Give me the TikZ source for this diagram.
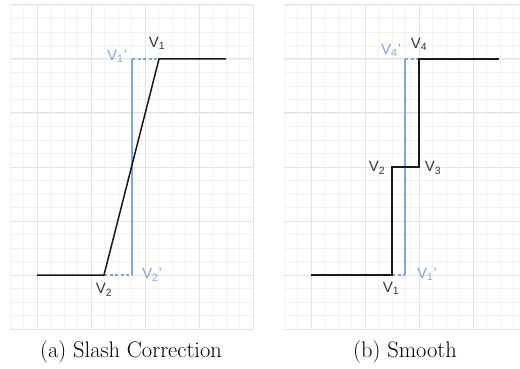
\documentclass[tikz,border=0pt]{standalone}
\usepackage{fontspec}
\setsansfont{Liberation Sans}
\definecolor{lineblue}{RGB}{126,166,224}
\definecolor{lblgray}{RGB}{55,55,55}
\begin{document}
\begin{tikzpicture}[x=1pt,y=-1pt,
  minorgrid/.style={draw=black!5, line width=0.8pt},
  majorgrid/.style={draw=black!11, line width=1pt},
  curve/.style={draw=black!90, line width=1.5pt},
  bluel/.style={draw=lineblue, line width=1.3pt},
  bluedash/.style={bluel, dash pattern=on 3pt off 2.5pt},
  lbl/.style={font=\sffamily\fontsize{15}{17}\selectfont, text=lblgray, inner sep=0pt},
  blbl/.style={lbl, text=lineblue},
  captext/.style={font=\fontsize{22.5}{26}\selectfont, inner sep=0pt}]
\useasboundingbox (0,0) rectangle (520,369);
% ---------- left grid ----------
\foreach \i in {0,...,18} \draw[minorgrid] ({10+13.5*\i},5) -- ({10+13.5*\i},329);
\foreach \j in {0,...,24} \draw[minorgrid] (10,{5+13.5*\j}) -- (253,{5+13.5*\j});
\foreach \x in {37,91,145,199,253} \draw[majorgrid] (\x,5) -- (\x,329);
\foreach \y in {5,59,113,167,221,275,329} \draw[majorgrid] (10,\y) -- (253,\y);
% ---------- right grid ----------
\begin{scope}
\clip (280,0) rectangle (520,369);
\foreach \i in {0,...,18} \draw[minorgrid] ({284+13.5*\i},5) -- ({284+13.5*\i},329);
\foreach \j in {0,...,24} \draw[minorgrid] (284,{5+13.5*\j}) -- (520,{5+13.5*\j});
\foreach \x in {311,365,419,473} \draw[majorgrid] (\x,5) -- (\x,329);
\foreach \y in {5,59,113,167,221,275,329} \draw[majorgrid] (284,\y) -- (520,\y);
\end{scope}
% ---------- left panel ----------
\coordinate (a0) at (37,275);
\coordinate (a2) at (104,275);
\coordinate (a1) at (159,59);
\coordinate (a3) at (226,59);
\coordinate (ab1) at (132,59);
\coordinate (ab2) at (132,275);
\draw[bluel] (ab1) -- (ab2);
\draw[bluedash] (ab1) -- (a1);
\draw[bluedash] (a2) -- (ab2);
\draw[curve] (a0) -- (a2) -- (a1) -- (a3);
\node[lbl] (la1) at (157,43) {V\textsubscript{1}};
\node[blbl] (la1p) at (117,56) {V\textsubscript{1}'};
\node[lbl] (la2) at (104,290) {V\textsubscript{2}};
\node[blbl] (la2p) at (152,275) {V\textsubscript{2}'};
\node[captext] (capa) at (131,352) {(a) Slash Correction};
% ---------- right panel ----------
\coordinate (b0) at (311,275);
\coordinate (b1) at (392,275);
\coordinate (b2) at (392,167);
\coordinate (b3) at (419,167);
\coordinate (b4) at (419,59);
\coordinate (b5) at (499,59);
\coordinate (bb1) at (405,59);
\coordinate (bb2) at (405,275);
\draw[bluel] (bb1) -- (bb2);
\draw[bluedash] (bb1) -- (b4);
\draw[bluedash] (b1) -- (bb2);
\draw[curve] (b0) -- (b1) -- (b2) -- (b3) -- (b4) -- (b5);
\node[lbl] (lb4) at (419,44) {V\textsubscript{4}};
\node[blbl] (lb4p) at (391,50) {V\textsubscript{4}'};
\node[lbl] (lb2) at (377,168) {V\textsubscript{2}};
\node[lbl] (lb3) at (433,168) {V\textsubscript{3}};
\node[lbl] (lb1) at (391,288) {V\textsubscript{1}};
\node[blbl] (lb1p) at (427,274) {V\textsubscript{1}'};
\node[captext] (capb) at (405,352) {(b) Smooth};
\end{tikzpicture}
\end{document}
